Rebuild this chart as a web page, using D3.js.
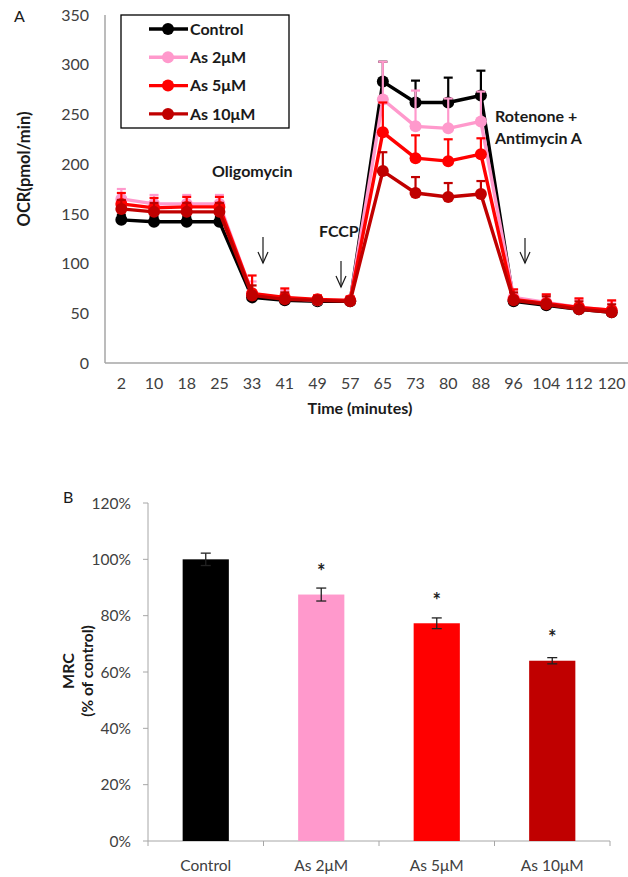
<!DOCTYPE html>
<html>
<head>
<meta charset="utf-8">
<script src="https://cdn.jsdelivr.net/npm/d3@7/dist/d3.min.js"></script>
<style>
  html, body { margin: 0; padding: 0; background: #fff; }
  svg { display: block; font-family: Lato, "Open Sans", sans-serif; }
</style>
</head>
<body>
<svg id="fig" width="628" height="877"></svg>
<script>
// ---- Panel A: oxygen consumption rate over time ----
const timePoints = ["2","10","18","25","33","41","49","57","65","73","80","88","96","104","112","120"];
const seriesNames = ["Control", "As 2μM", "As 5μM", "As 10μM"];
const seriesColors = ["#000000", "#FF99CC", "#FF0000", "#C00000"];

const ocrControl = [144, 142, 142, 142, 66, 63, 62, 62, 283, 262, 262, 269, 62, 58, 54, 51];
const ocrAs2     = [165, 160, 160, 160, 70, 65, 63, 63, 265, 238, 236, 243, 66, 61, 56, 53];
const ocrAs5     = [160, 156, 157, 157, 70, 66, 64, 63, 232, 206, 203, 210, 64, 60, 56, 53];
const ocrAs10    = [155, 152, 152, 152, 68, 64, 63, 62, 193, 171, 167, 170, 63, 59, 54, 51];

const errControl = [5, 5, 5, 5, 5, 4, 4, 4, 20, 22, 25, 25, 5, 5, 5, 5];
const errAs2     = [10, 9, 9, 9, 12, 8, 5, 4, 38, 36, 30, 30, 8, 8, 8, 9];
const errAs5     = [11, 10, 10, 10, 18, 9, 4, 4, 30, 23, 22, 16, 10, 9, 9, 10];
const errAs10    = [9, 9, 9, 9, 10, 7, 4, 4, 19, 16, 14, 13, 8, 8, 8, 8];

const ocrTicks = [0, 50, 100, 150, 200, 250, 300, 350];

// Injection annotations with their downward arrows
const injections = [
  { lines: ["Oligomycin"], textX: 212, textY: 177, arrowX: 263, arrowTop: 237, arrowBottom: 263 },
  { lines: ["FCCP"], textX: 319, textY: 237, arrowX: 341, arrowTop: 261, arrowBottom: 287 },
  { lines: ["Rotenone +", "Antimycin A"], textX: 495, textY: 122, arrowX: 525, arrowTop: 238, arrowBottom: 263 }
];

// ---- Panel B: maximal respiratory capacity ----
const groups = ["Control", "As 2μM", "As 5μM", "As 10μM"];
const mrcValues = [1.00, 0.875, 0.773, 0.64];
const mrcErrors = [0.022, 0.023, 0.019, 0.011];
const mrcSignificant = [false, true, true, true];
const mrcTicks = [0, 0.2, 0.4, 0.6, 0.8, 1.0, 1.2];

const svg = d3.select("#fig");
const axisGray = "#A6A6A6";
const labelGray = "#404040";
const textDark = "#1a1a1a";

// ================= Panel A =================
const xA = d3.scaleBand().domain(timePoints).range([105, 628]);
const yA = d3.scaleLinear().domain([0, 350]).range([363, 15]);
const cx = t => xA(t) + xA.bandwidth() / 2;

const gA = svg.append("g");

gA.append("line").attr("x1", 105).attr("x2", 105).attr("y1", yA(350)).attr("y2", yA(0))
  .attr("stroke", axisGray).attr("stroke-width", 1.5);
gA.append("line").attr("x1", 105).attr("x2", 628).attr("y1", yA(0)).attr("y2", yA(0))
  .attr("stroke", axisGray).attr("stroke-width", 1.5);

gA.selectAll("text.ytick").data(ocrTicks).join("text")
  .attr("class", "ytick")
  .attr("x", 89).attr("y", d => yA(d)).attr("dy", "0.36em")
  .attr("text-anchor", "end").attr("font-size", 16).attr("fill", labelGray)
  .text(d => d);

gA.selectAll("text.xtick").data(timePoints).join("text")
  .attr("class", "xtick")
  .attr("x", d => cx(d)).attr("y", 389)
  .attr("text-anchor", "middle").attr("font-size", 16).attr("fill", labelGray)
  .text(d => d);

gA.append("text").attr("x", 360).attr("y", 414).attr("text-anchor", "middle")
  .attr("font-size", 16).attr("font-weight", "bold").attr("fill", textDark)
  .text("Time (minutes)");

gA.append("text").attr("transform", "translate(30,169) rotate(-90)")
  .attr("text-anchor", "middle").attr("font-size", 16.5).attr("font-weight", "bold").attr("fill", textDark)
  .text("OCR(pmol/min)");

gA.append("text").attr("x", 14).attr("y", 22).attr("font-size", 16).attr("fill", textDark).text("A");

// series: upper error bars, connecting line, markers
const ocrSeries = [ocrControl, ocrAs2, ocrAs5, ocrAs10];
const errSeries = [errControl, errAs2, errAs5, errAs10];
const line = d3.line().x((d, i) => cx(timePoints[i])).y(d => yA(d));

ocrSeries.forEach((vals, s) => {
  const g = gA.append("g");
  const col = seriesColors[s];
  vals.forEach((v, i) => {
    const x = cx(timePoints[i]);
    const top = yA(v + errSeries[s][i]);
    g.append("line").attr("x1", x).attr("x2", x).attr("y1", yA(v)).attr("y2", top)
      .attr("stroke", col).attr("stroke-width", 2.2);
    g.append("line").attr("x1", x - 4.5).attr("x2", x + 4.5).attr("y1", top).attr("y2", top)
      .attr("stroke", col).attr("stroke-width", 2.2);
  });
  g.append("path").attr("d", line(vals)).attr("fill", "none")
    .attr("stroke", col).attr("stroke-width", 3.4).attr("stroke-linejoin", "round");
  g.selectAll("circle").data(vals).join("circle")
    .attr("cx", (d, i) => cx(timePoints[i])).attr("cy", d => yA(d)).attr("r", 6)
    .attr("fill", col);
});

// injection annotations
injections.forEach(inj => {
  inj.lines.forEach((t, k) => {
    gA.append("text").attr("x", inj.textX).attr("y", inj.textY + k * 22)
      .attr("font-size", 16).attr("font-weight", "bold").attr("fill", textDark).text(t);
  });
  gA.append("line").attr("x1", inj.arrowX).attr("x2", inj.arrowX)
    .attr("y1", inj.arrowTop).attr("y2", inj.arrowBottom)
    .attr("stroke", textDark).attr("stroke-width", 1.2);
  gA.append("path")
    .attr("d", `M${inj.arrowX - 5},${inj.arrowBottom - 11}L${inj.arrowX},${inj.arrowBottom}L${inj.arrowX + 5},${inj.arrowBottom - 11}`)
    .attr("fill", "none").attr("stroke", textDark).attr("stroke-width", 1.2);
});

// legend
const legend = gA.append("g");
legend.append("rect").attr("x", 121).attr("y", 15).attr("width", 168).attr("height", 113)
  .attr("fill", "#fff").attr("stroke", "#000").attr("stroke-width", 1.3);
seriesNames.forEach((name, i) => {
  const y = 29 + i * 28.3;
  legend.append("line").attr("x1", 149).attr("x2", 188).attr("y1", y).attr("y2", y)
    .attr("stroke", seriesColors[i]).attr("stroke-width", 3.4);
  legend.append("circle").attr("cx", 168).attr("cy", y).attr("r", 6).attr("fill", seriesColors[i]);
  legend.append("text").attr("x", 190).attr("y", y).attr("dy", "0.36em")
    .attr("font-size", 16).attr("font-weight", "bold").attr("fill", textDark).text(name);
});

// ================= Panel B =================
const xB = d3.scaleBand().domain(groups).range([148, 610]).paddingInner(0.6).paddingOuter(0.3);
const yB = d3.scaleLinear().domain([0, 1.2]).range([841, 503]);
const gB = svg.append("g");

gB.append("line").attr("x1", 148).attr("x2", 148).attr("y1", yB(1.2)).attr("y2", yB(0))
  .attr("stroke", axisGray).attr("stroke-width", 1);
gB.append("line").attr("x1", 148).attr("x2", 610).attr("y1", yB(0)).attr("y2", yB(0))
  .attr("stroke", axisGray).attr("stroke-width", 1);

gB.selectAll("line.ytick").data(mrcTicks).join("line").attr("class", "ytick")
  .attr("x1", 143).attr("x2", 148).attr("y1", d => yB(d)).attr("y2", d => yB(d))
  .attr("stroke", axisGray);
gB.selectAll("text.ytick").data(mrcTicks).join("text").attr("class", "ytick")
  .attr("x", 131).attr("y", d => yB(d)).attr("dy", "0.36em")
  .attr("text-anchor", "end").attr("font-size", 15.5).attr("fill", labelGray)
  .text(d => d3.format(".0%")(d));

// category boundary ticks below the axis
const bounds = d3.range(groups.length + 1).map(i => 148 + i * (462 / groups.length));
gB.selectAll("line.xtick").data(bounds).join("line").attr("class", "xtick")
  .attr("x1", d => d).attr("x2", d => d).attr("y1", yB(0)).attr("y2", yB(0) + 5)
  .attr("stroke", axisGray);
gB.selectAll("text.xtick").data(groups).join("text").attr("class", "xtick")
  .attr("x", d => xB(d) + xB.bandwidth() / 2).attr("y", 871)
  .attr("text-anchor", "middle").attr("font-size", 15.5).attr("fill", labelGray)
  .text(d => d);

gB.selectAll("rect.bar").data(groups).join("rect").attr("class", "bar")
  .attr("x", d => xB(d)).attr("width", xB.bandwidth())
  .attr("y", (d, i) => yB(mrcValues[i])).attr("height", (d, i) => yB(0) - yB(mrcValues[i]))
  .attr("fill", (d, i) => seriesColors[i]);

groups.forEach((gName, i) => {
  const x = xB(gName) + xB.bandwidth() / 2;
  const hi = yB(mrcValues[i] + mrcErrors[i]);
  const lo = yB(mrcValues[i] - mrcErrors[i]);
  gB.append("line").attr("x1", x).attr("x2", x).attr("y1", hi).attr("y2", lo)
    .attr("stroke", "#222").attr("stroke-width", 1.3);
  [hi, lo].forEach(y => gB.append("line").attr("x1", x - 5).attr("x2", x + 5)
    .attr("y1", y).attr("y2", y).attr("stroke", "#222").attr("stroke-width", 1.3));
  if (mrcSignificant[i]) {
    gB.append("text").attr("x", x).attr("y", yB(mrcValues[i] + 0.10)).attr("dy", "0.62em")
      .attr("text-anchor", "middle").attr("font-size", 20).attr("font-weight", "bold")
      .attr("fill", "#222").text("*");
  }
});

gB.append("text").attr("x", 63).attr("y", 503).attr("font-size", 16).attr("fill", textDark).text("B");
gB.append("text").attr("transform", "translate(74,671) rotate(-90)")
  .attr("text-anchor", "middle").attr("font-size", 16).attr("font-weight", "bold").attr("fill", textDark)
  .text("MRC");
gB.append("text").attr("transform", "translate(93,671) rotate(-90)")
  .attr("text-anchor", "middle").attr("font-size", 15.5).attr("font-weight", "bold").attr("fill", textDark)
  .text("(% of control)");
</script>
</body>
</html>
